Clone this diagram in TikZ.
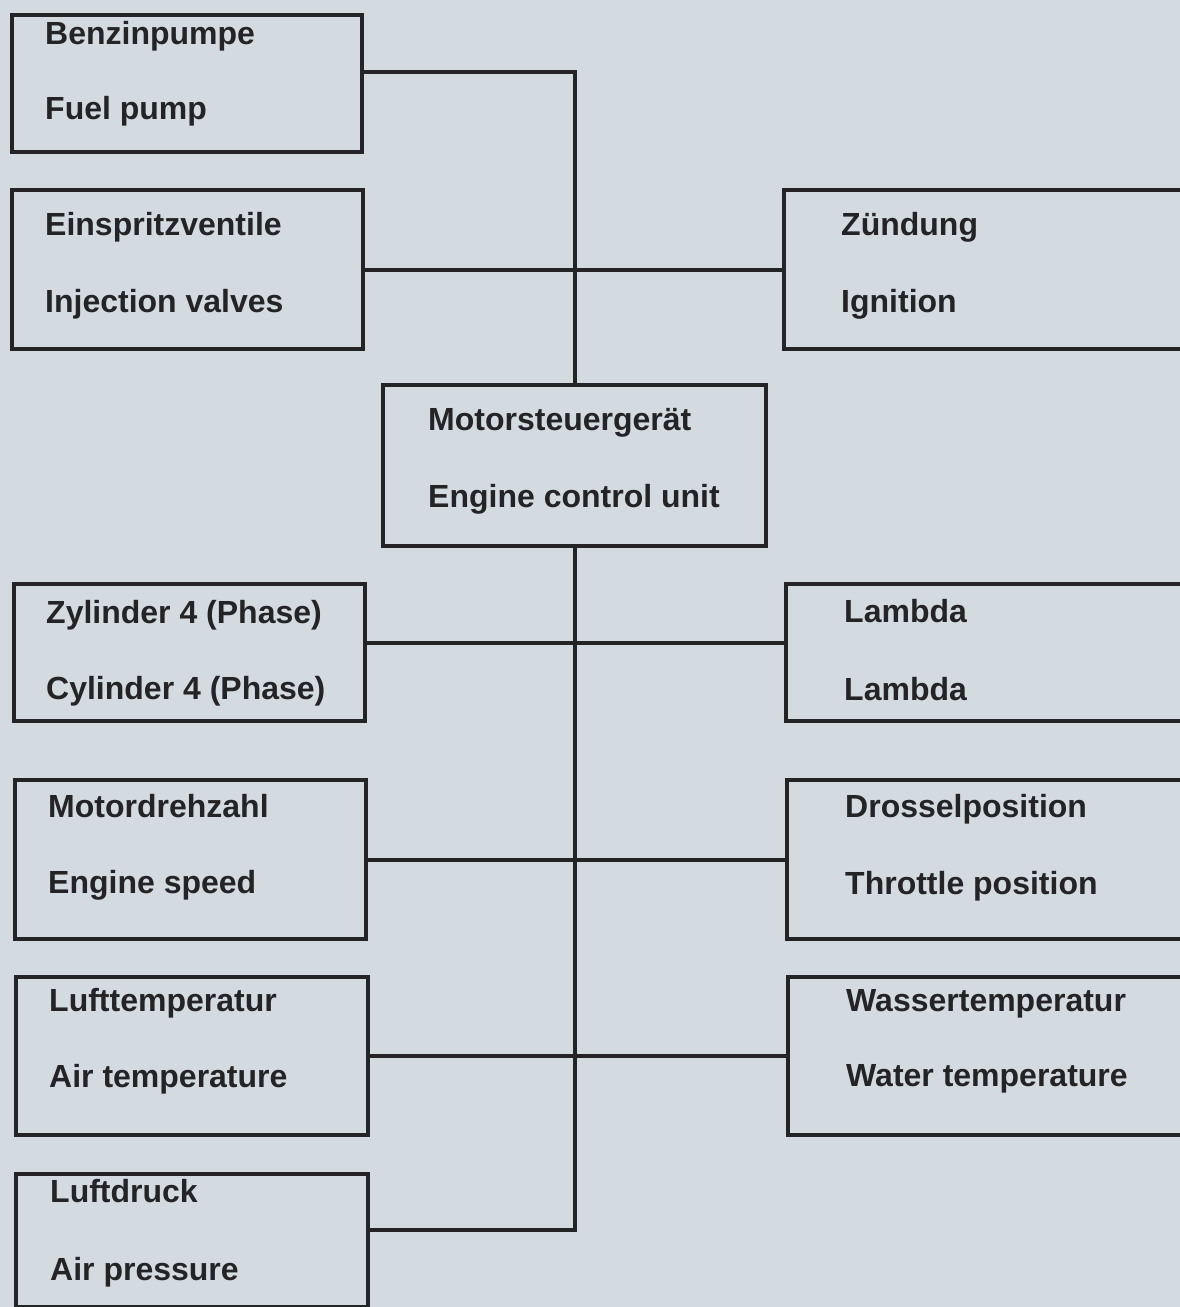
\documentclass[tikz,border=0pt]{standalone}
\usepackage{fontspec}
\setmainfont{Liberation Sans}
\usetikzlibrary{positioning}
\definecolor{paper}{RGB}{212,219,224}
\definecolor{ink}{RGB}{36,36,38}

\begin{document}
\begin{tikzpicture}[x=1pt,y=-1pt]
  \tikzstyle{box}=[draw=ink,line width=4pt,anchor=north west,inner sep=0pt]
  \tikzstyle{txt}=[anchor=base west,inner sep=0pt,text=ink,font=\fontsize{32}{38}\selectfont\bfseries]
  \tikzstyle{wire}=[draw=ink,line width=4pt]
  \useasboundingbox (0,0) rectangle (1180,1307);
  \clip (0,0) rectangle (1180,1307);
  \fill[paper] (0,0) rectangle (1180,1307);

  % left column
  \node[box,minimum width=350pt,minimum height=137pt] (fuel) at (10,13) {};
  \node[box,minimum width=351pt,minimum height=159pt] (inj) at (10,188) {};
  \node[box,minimum width=351pt,minimum height=137pt] (cyl) at (12,582) {};
  \node[box,minimum width=351pt,minimum height=159pt] (speed) at (13,778) {};
  \node[box,minimum width=352pt,minimum height=158pt] (air) at (14,975) {};
  \node[box,minimum width=352pt,minimum height=133pt] (press) at (14,1172) {};
  % centre
  \node[box,minimum width=383pt,minimum height=161pt] (ecu) at (381,383) {};
  % right column, runs off the edge
  \node[box,minimum width=420pt,minimum height=159pt] (ign) at (782,188) {};
  \node[box,minimum width=420pt,minimum height=137pt] (lam) at (784,582) {};
  \node[box,minimum width=420pt,minimum height=159pt] (thr) at (785,778) {};
  \node[box,minimum width=420pt,minimum height=158pt] (water) at (786,975) {};

  \node[txt] (fuel-de) at (45,44) {Benzinpumpe};
  \node[txt] (fuel-en) at (45,119) {Fuel pump};
  \node[txt] (inj-de) at (45,235) {Einspritzventile};
  \node[txt] (inj-en) at (45,312) {Injection valves};
  \node[txt] (cyl-de) at (46,623) {Zylinder 4 (Phase)};
  \node[txt] (cyl-en) at (46,699) {Cylinder 4 (Phase)};
  \node[txt] (speed-de) at (48,817) {Motordrehzahl};
  \node[txt] (speed-en) at (48,893) {Engine speed};
  \node[txt] (air-de) at (49,1011) {Lufttemperatur};
  \node[txt] (air-en) at (49,1087) {Air temperature};
  \node[txt] (press-de) at (50,1202) {Luftdruck};
  \node[txt] (press-en) at (50,1280) {Air pressure};
  \node[txt] (ecu-de) at (428,430) {Motorsteuergerät};
  \node[txt] (ecu-en) at (428,507) {Engine control unit};
  \node[txt] (ign-de) at (841,235) {Zündung};
  \node[txt] (ign-en) at (841,312) {Ignition};
  \node[txt] (lam-de) at (844,622) {Lambda};
  \node[txt] (lam-en) at (844,700) {Lambda};
  \node[txt] (thr-de) at (845,817) {Drosselposition};
  \node[txt] (thr-en) at (845,894) {Throttle position};
  \node[txt] (water-de) at (846,1011) {Wassertemperatur};
  \node[txt] (water-en) at (846,1086) {Water temperature};

  % bus
  \draw[wire] ([yshift=11.5pt]fuel.east) -| (ecu.north);
  \draw[wire] (inj.east) -- (ign.west);
  \draw[wire] (ecu.south) |- ([yshift=10.5pt]press.east);
  \draw[wire] ([yshift=10pt]cyl.east) -- ([yshift=10pt]lam.west);
  \draw[wire] (speed.east) -- (thr.west);
  \draw[wire] (air.east) -- (water.west);
\end{tikzpicture}
\end{document}
